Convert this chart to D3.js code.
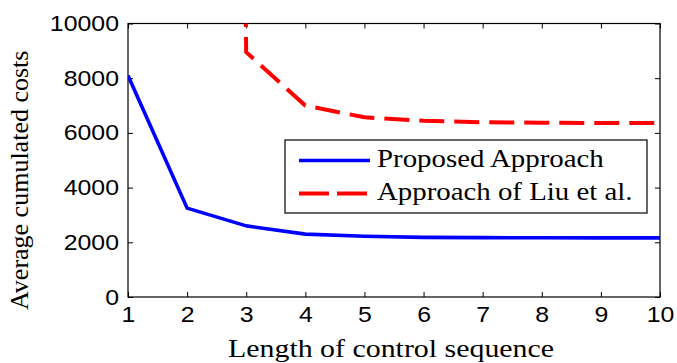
<!DOCTYPE html>
<html>
<head>
<meta charset="utf-8">
<script src="https://cdn.jsdelivr.net/npm/d3@7"></script>
<style>
  body { margin: 0; background: #fff; }
  svg { display: block; }
  .axis path, .axis line { stroke: #000; }
</style>
</head>
<body>
<svg width="677" height="363"></svg>
<script>
// data
const steps = [1, 2, 3, 4, 5, 6, 7, 8, 9, 10];
const proposed = [8100, 3250, 2600, 2300, 2220, 2180, 2170, 2165, 2160, 2160];
// Liu et al. has no value at 1, and a huge one at 2 (off the chart)
const liuSteps = [2, 3, 4, 5, 6, 7, 8, 9, 10];
const liu = [150000, 8950, 7000, 6570, 6440, 6390, 6370, 6360, 6360];
const xTicks = [1, 2, 3, 4, 5, 6, 7, 8, 9, 10];
const yTicks = [0, 2000, 4000, 6000, 8000, 10000];
const seriesNames = ["Proposed Approach", "Approach of Liu et al."];

const W = 677, H = 363;
const margin = { top: 23.5, right: 17, bottom: 66, left: 128 };
const plotW = W - margin.left - margin.right;
const plotH = H - margin.top - margin.bottom;

const SANS = "Liberation Sans, Arial, sans-serif";
const SERIF = "Liberation Serif, Times New Roman, serif";

const svg = d3.select("svg");
const g = svg.append("g").attr("transform", `translate(${margin.left},${margin.top})`);

const xScale = d3.scaleLinear().domain([1, 10]).range([0, plotW]);
const yScale = d3.scaleLinear().domain([0, 10000]).range([plotH, 0]);

// clip
svg.append("defs").append("clipPath").attr("id", "plotclip")
  .append("rect").attr("width", plotW).attr("height", plotH);

// bottom axis
const xAxis = d3.axisBottom(xScale).tickValues(xTicks).tickFormat(d3.format("d"))
  .tickSizeInner(-5).tickSizeOuter(0).tickPadding(9);
const gx = g.append("g").attr("class", "axis").attr("transform", `translate(0,${plotH})`).call(xAxis);
gx.attr("font-family", SANS).attr("font-size", 22);
gx.selectAll("text").attr("fill", "#000").attr("dy", "0.72em").attr("transform", "scale(1.13,1)");

// top axis (ticks only)
g.append("g").attr("class", "axis")
  .call(d3.axisTop(xScale).tickValues(xTicks).tickSizeInner(-5).tickSizeOuter(0).tickFormat(""));

// left axis (labels are a bit wide in the reference)
const yAxis = d3.axisLeft(yScale).tickValues(yTicks).tickFormat(d3.format("d"))
  .tickSizeInner(-5).tickSizeOuter(0).tickPadding(8);
const gy = g.append("g").attr("class", "axis").call(yAxis);
gy.attr("font-family", SANS).attr("font-size", 22);
gy.selectAll("text").attr("fill", "#000").attr("transform", "scale(1.13,1)");

// right axis (ticks only)
g.append("g").attr("class", "axis").attr("transform", `translate(${plotW},0)`)
  .call(d3.axisRight(yScale).tickValues(yTicks).tickSizeInner(-5).tickSizeOuter(0).tickFormat(""));

g.selectAll(".axis .domain").remove();

// box
g.append("rect").attr("width", plotW).attr("height", plotH)
  .attr("fill", "none").attr("stroke", "#000").attr("stroke-width", 1.2);

// lines
const line = d3.line().x(d => xScale(d[0])).y(d => yScale(d[1]));
const plot = g.append("g").attr("clip-path", "url(#plotclip)");

plot.append("path")
  .attr("d", line(liuSteps.map((s, i) => [s, liu[i]])))
  .attr("fill", "none").attr("stroke", "#ff0000").attr("stroke-width", 4)
  .attr("stroke-dasharray", "25,10").attr("stroke-dashoffset", 5117);

plot.append("path")
  .attr("d", line(steps.map((s, i) => [s, proposed[i]])))
  .attr("fill", "none").attr("stroke", "#0000ff").attr("stroke-width", 3.6)
  .attr("stroke-linejoin", "round");

// legend
const leg = svg.append("g").attr("transform", "translate(285,140)");
leg.append("rect").attr("width", 362).attr("height", 73)
  .attr("fill", "#fff").attr("stroke", "#000").attr("stroke-width", 1.2);
const legRows = [
  { name: seriesNames[0], color: "#0000ff", dash: null, y: 20.5 },
  { name: seriesNames[1], color: "#ff0000", dash: "30,8", y: 53.5 }
];
legRows.forEach(r => {
  leg.append("line").attr("x1", 14).attr("x2", 85).attr("y1", r.y).attr("y2", r.y)
    .attr("stroke", r.color).attr("stroke-width", r.dash ? 4 : 3.6)
    .attr("stroke-dasharray", r.dash);
  leg.append("text").attr("font-family", SERIF)
    .attr("transform", `translate(92,${r.y + 6}) scale(1.11,1)`)
    .attr("font-size", 26).attr("fill", "#000")
    .text(r.name);
});

// axis titles
svg.append("text").attr("font-family", SERIF)
  .attr("transform", "translate(228,357) scale(1.15,1)")
  .attr("font-size", 26).attr("fill", "#000")
  .text("Length of control sequence");

svg.append("text").attr("font-family", SERIF).attr("transform", "translate(28,310) rotate(-90)")
  .attr("font-size", 26).attr("fill", "#000")
  .text("Average cumulated costs");
</script>
</body>
</html>
